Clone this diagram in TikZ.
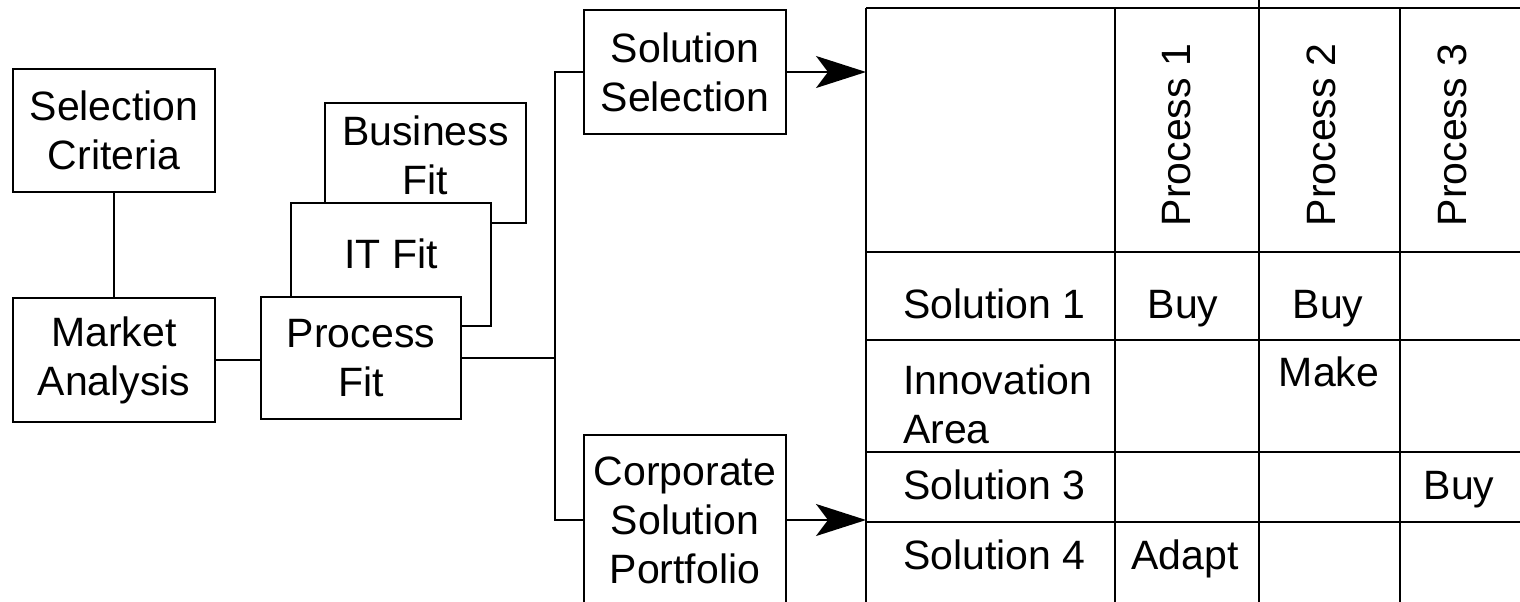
\documentclass[tikz,border=0pt]{standalone}
\usepackage{fontspec}
\setmainfont{Liberation Sans}
\usetikzlibrary{arrows.meta}

\tikzset{
  box/.style={draw, fill=white, align=center, inner sep=0pt,
              minimum width=101pt, minimum height=61.5pt},
  cell/.style={text height=0.72em, text depth=0pt, inner sep=0pt},
  feed/.style={-{Stealth[length=25pt,width=16pt,inset=6pt]}},
}

\begin{document}
\begin{tikzpicture}[x=0.5pt,y=-0.5pt,line width=1pt,
    font=\fontsize{20.5}{24.5}\selectfont]
  \useasboundingbox (0,0) rectangle (1520,601);

  % criteria and market analysis
  \node[box] (crit) at (114,130.5) {Selection\\Criteria};
  \node[box, minimum height=62pt] (market) at (114,360) {Market\\Analysis};
  \draw (crit) -- (market);

  % stacked fit checks, back to front
  \node[box, minimum width=100.5pt, minimum height=60pt] (busfit) at (425.5,163) {};
  \node[align=center, inner sep=0pt] (busfit-t) at (425.5,155) {Business\\Fit};
  \node[box, minimum width=100pt] (itfit) at (391,264.5) {};
  \node[inner sep=0pt] (itfit-t) at (391,254) {IT Fit};
  \node[box, minimum width=100pt, minimum height=61pt] (procfit) at (361,358) {Process\\Fit};
  \draw (market.east) -- (market.east -| procfit.west);

  % split towards selection and portfolio
  \coordinate (split) at (555,358);
  \draw (procfit.east) -- (split);
  \node[box, minimum height=62pt] (select) at (685,72) {Solution\\Selection};
  \node[box, minimum height=85pt] (portf) at (685,520) {Corporate\\Solution\\Portfolio};
  \draw (select.west) -| (split) |- (portf.west);

  % make/buy matrix
  \coordinate (grid-nw) at (866,8);
  \draw (grid-nw) -- (1530,8);
  \foreach \x in {866,1115,1400}
    \draw (\x,8) -- (\x,610);
  \draw (1259,0) -- (1259,610);
  \foreach \y in {252,340,452,522}
    \draw (866,\y) -- (1530,\y);

  \draw[feed] (select.east) -- (select.east -| grid-nw);
  \draw[feed] (portf.east) -- (portf.east -| grid-nw);

  % column heads
  \foreach \x/\n in {1183/1,1328/2,1459/3}
    \node[cell, rotate=90] (proc-\n) at (\x,135) {Process \n};

  % row heads
  \node[cell, anchor=west] (sol1) at (902,311) {Solution 1};
  \node[anchor=west, align=left, inner sep=0pt] (innov) at (902,404) {Innovation\\Area};
  \node[cell, anchor=west] (sol3) at (902,492) {Solution 3};
  \node[cell, anchor=west] (sol4) at (902,562) {Solution 4};

  % entries
  \node[cell] (buy-1-1) at (1183,311) {Buy};
  \node[cell] (buy-1-2) at (1328,311) {Buy};
  \node[cell] (make-2-2) at (1329,379) {Make};
  \node[cell] (buy-3-3) at (1459,492) {Buy};
  \node[cell] (adapt-4-1) at (1185,562) {Adapt};
\end{tikzpicture}
\end{document}
